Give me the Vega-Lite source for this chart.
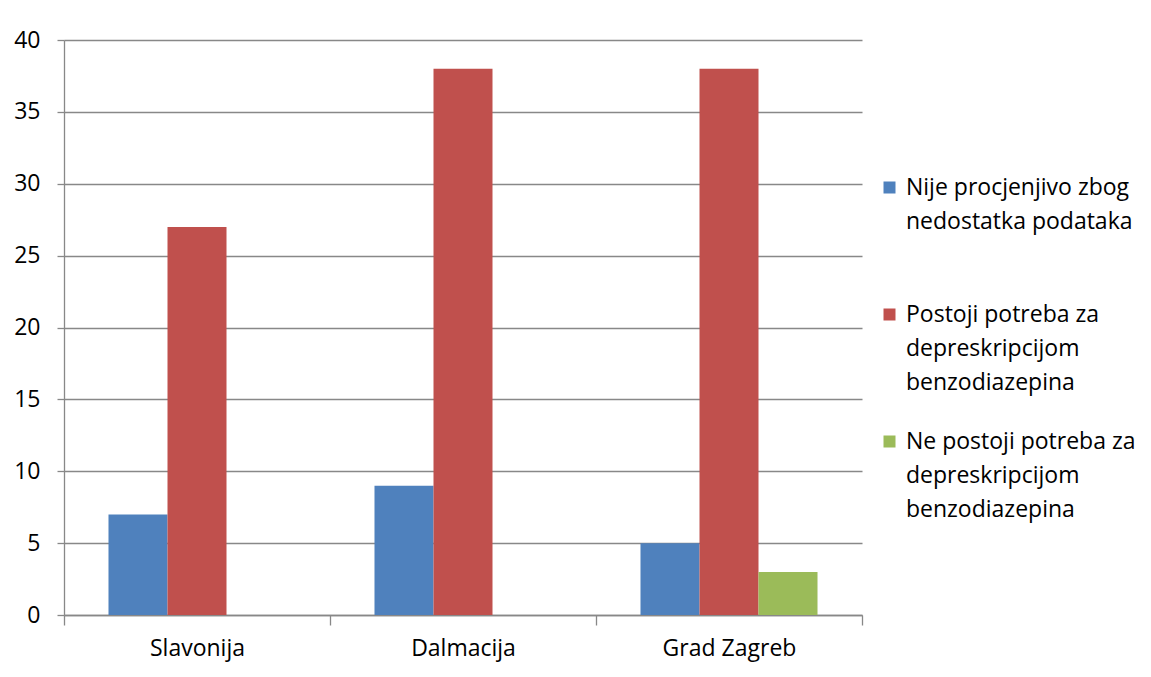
{
  "$schema": "https://vega.github.io/schema/vega-lite/v6.json",
  "width": 798,
  "height": 575,
  "autosize": {"type": "none"},
  "padding": {"left": 64, "top": 40, "right": 289, "bottom": 62},
  "background": "white",
  "config": {
    "view": {"stroke": null},
    "font": "Open Sans",
    "style": {"guide-label": {"lineHeight": 34}}
  },
  "data": {
    "values": [
      {"region": "Slavonija", "series": "Nije procjenjivo zbog|nedostatka podataka", "value": 7},
      {"region": "Slavonija", "series": "Postoji potreba za|depreskripcijom|benzodiazepina", "value": 27},
      {"region": "Dalmacija", "series": "Nije procjenjivo zbog|nedostatka podataka", "value": 9},
      {"region": "Dalmacija", "series": "Postoji potreba za|depreskripcijom|benzodiazepina", "value": 38},
      {"region": "Grad Zagreb", "series": "Nije procjenjivo zbog|nedostatka podataka", "value": 5},
      {"region": "Grad Zagreb", "series": "Postoji potreba za|depreskripcijom|benzodiazepina", "value": 38},
      {"region": "Grad Zagreb", "series": "Ne postoji potreba za|depreskripcijom|benzodiazepina", "value": 3}
    ]
  },
  "mark": {"type": "bar"},
  "encoding": {
    "x": {
      "field": "region", "type": "nominal", "sort": null,
      "scale": {"paddingInner": 0, "paddingOuter": 0},
      "axis": {"title": null, "labelAngle": 0, "labelPadding": 12, "tickBand": "extent", "tickSize": 10, "grid": false,
        "labelFont": "Open Sans", "labelFontSize": 23, "labelColor": "black", "domainColor": "#888888", "tickColor": "#888888", "domainWidth": 1.3, "tickWidth": 1.3}
    },
    "xOffset": {
      "field": "series", "type": "nominal",
      "sort": ["Nije procjenjivo zbog|nedostatka podataka", "Postoji potreba za|depreskripcijom|benzodiazepina", "Ne postoji potreba za|depreskripcijom|benzodiazepina"],
      "scale": {"domain": ["Nije procjenjivo zbog|nedostatka podataka", "Postoji potreba za|depreskripcijom|benzodiazepina", "Ne postoji potreba za|depreskripcijom|benzodiazepina"], "paddingInner": 0, "paddingOuter": 0.754}
    },
    "y": {
      "field": "value", "type": "quantitative",
      "scale": {"domain": [0, 40], "nice": false},
      "axis": {"title": null, "values": [0,5,10,15,20,25,30,35,40], "tickSize": 7, "labelPadding": 17, "grid": true, "domain": true,
        "labelFont": "Open Sans", "labelFontSize": 23, "labelColor": "black", "domainColor": "#888888", "tickColor": "#888888", "gridColor": "#888888", "gridWidth": 1.3, "domainWidth": 1.3, "tickWidth": 1.3}
    },
    "color": {
      "field": "series", "type": "nominal",
      "scale": {"domain": ["Nije procjenjivo zbog|nedostatka podataka", "Postoji potreba za|depreskripcijom|benzodiazepina", "Ne postoji potreba za|depreskripcijom|benzodiazepina"], "range": ["#4F81BD", "#C0504D", "#9BBB59"]},
      "legend": {
        "title": null, "orient": "none", "legendX": 814, "legendY": 136,
        "symbolType": "square", "symbolSize": 144, "symbolStrokeWidth": 0,
        "labelFont": "Open Sans", "labelFontSize": 23, "labelColor": "black", "labelLimit": 400,
        "labelExpr": "split(datum.label + (datum.label == 'Nije procjenjivo zbog|nedostatka podataka' ? '| ' : ''), '|')", "rowPadding": 35, "labelOffset": 5
      }
    }
  }
}
